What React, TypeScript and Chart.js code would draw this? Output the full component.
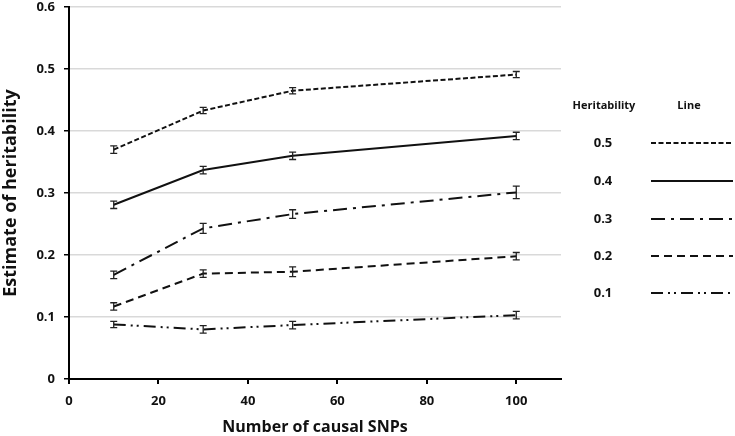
import React, { useEffect, useRef } from "react";
import { Chart, registerables } from "chart.js";

Chart.register(...registerables);

const xValues = [10, 30, 50, 100];
const heritabilityLabels = ["0.5", "0.4", "0.3", "0.2", "0.1"];
const h05 = [0.37, 0.433, 0.465, 0.491];
const h04 = [0.281, 0.337, 0.36, 0.392];
const h03 = [0.168, 0.243, 0.266, 0.301];
const h02 = [0.117, 0.17, 0.173, 0.198];
const h01 = [0.088, 0.08, 0.087, 0.103];
const e05 = [0.006, 0.005, 0.005, 0.005];
const e04 = [0.006, 0.006, 0.006, 0.006];
const e03 = [0.006, 0.008, 0.007, 0.01];
const e02 = [0.006, 0.006, 0.008, 0.006];
const e01 = [0.005, 0.006, 0.006, 0.006];
const yTicks = [0, 0.1, 0.2, 0.3, 0.4, 0.5, 0.6];
const xTicks = [0, 20, 40, 60, 80, 100];

const seriesValues = [h05, h04, h03, h02, h01];
const seriesErrors = [e05, e04, e03, e02, e01];
const dashes = [[5, 2.5], [], [14, 6, 3, 6], [8, 5], [12, 5, 2, 4, 2, 5]];

const FONT = "'Open Sans', 'Noto Sans', sans-serif";

const extrasPlugin = {
  id: "extras",
  afterDatasetsDraw(chart: any) {
    const { ctx, scales } = chart;
    const xs = scales.x;
    const ys = scales.y;
    ctx.save();
    ctx.strokeStyle = "#222";
    ctx.lineWidth = 1.3;
    ctx.setLineDash([]);
    chart.data.datasets.forEach((ds: any) => {
      const errs = ds.errors as number[];
      ds.data.forEach((p: any, i: number) => {
        const px = xs.getPixelForValue(p.x);
        const yt = ys.getPixelForValue(p.y + errs[i]);
        const yb = ys.getPixelForValue(p.y - errs[i]);
        ctx.beginPath();
        ctx.moveTo(px, yt);
        ctx.lineTo(px, yb);
        ctx.moveTo(px - 3.5, yt);
        ctx.lineTo(px + 3.5, yt);
        ctx.moveTo(px - 3.5, yb);
        ctx.lineTo(px + 3.5, yb);
        ctx.stroke();
      });
    });
    ctx.restore();
  },
  afterDraw(chart: any) {
    const { ctx } = chart;
    ctx.save();
    ctx.fillStyle = "#111";
    ctx.textAlign = "center";
    ctx.textBaseline = "middle";
    ctx.font = `bold 11px ${FONT}`;
    ctx.fillText("Heritability", 604, 106);
    ctx.fillText("Line", 689, 106);
    const rowY = [143, 181, 219, 256, 293];
    chart.data.datasets.forEach((ds: any, i: number) => {
      const y = rowY[i];
      ctx.fillStyle = "#111";
      ctx.font = `bold 13px ${FONT}`;
      ctx.fillText(ds.label, 603, y);
      ctx.strokeStyle = "#111";
      ctx.lineWidth = 2;
      ctx.setLineDash(ds.borderDash);
      ctx.beginPath();
      ctx.moveTo(651, y);
      ctx.lineTo(733, y);
      ctx.stroke();
    });
    ctx.restore();
  },
};

function ChartView() {
  const ref = useRef<HTMLCanvasElement>(null);
  useEffect(() => {
    if (!ref.current) return;
    const datasets = heritabilityLabels.map((lab, k) => ({
      label: lab,
      data: xValues.map((x, i) => ({ x, y: seriesValues[k][i] })),
      errors: seriesErrors[k],
      borderColor: "#111",
      backgroundColor: "#111",
      borderWidth: 2,
      borderDash: dashes[k],
      pointRadius: 0,
      tension: 0,
      fill: false,
    }));
    const chart = new Chart(ref.current, {
      type: "line",
      data: { datasets: datasets as any },
      plugins: [extrasPlugin as any],
      options: {
        responsive: false,
        animation: false,
        layout: { padding: { top: 7, right: 174, left: 0, bottom: 0 } },
        plugins: { legend: { display: false }, tooltip: { enabled: false } },
        scales: {
          x: {
            type: "linear",
            min: 0,
            max: 110,
            afterBuildTicks: (s: any) => {
              s.ticks = xTicks.map((v) => ({ value: v }));
            },
            afterFit: (s: any) => {
              s.height = 57;
              s.paddingLeft = 0;
              s.paddingRight = 0;
            },
            border: { display: true, color: "#000", width: 2 },
            grid: {
              drawOnChartArea: false,
              drawTicks: true,
              tickLength: 5,
              color: "#000",
              tickColor: "#000",
              lineWidth: 2,
            },
            ticks: {
              color: "#111",
              font: { family: FONT, size: 13, weight: "bold" },
              padding: 9,
              maxRotation: 0,
            },
            title: {
              display: true,
              text: "Number of causal SNPs",
              color: "#111",
              font: { family: FONT, size: 16, weight: "bold" },
              padding: { top: 4, bottom: -1 },
            },
          },
          y: {
            type: "linear",
            min: 0,
            max: 0.6,
            afterBuildTicks: (s: any) => {
              s.ticks = yTicks.map((v) => ({ value: v }));
            },
            afterFit: (s: any) => {
              s.width = 69;
              s.paddingTop = 0;
              s.paddingBottom = 0;
            },
            border: { display: true, color: "#000", width: 2 },
            grid: {
              drawTicks: true,
              tickLength: 5,
              color: (c: any) => (c.tick && c.tick.value === 0 ? "rgba(0,0,0,0)" : "#d9d9d9"),
              tickColor: "#000",
              lineWidth: 1.5,
            },
            ticks: {
              color: "#111",
              font: { family: FONT, size: 13, weight: "bold" },
              padding: 9,
              callback: (v: any) => String(Number(Number(v).toFixed(1))),
            },
            title: {
              display: true,
              text: "Estimate of heritability",
              color: "#111",
              font: { family: FONT, size: 18, weight: "bold" },
              padding: { top: 0, bottom: 0 },
            },
          },
        },
      },
    });
    return () => chart.destroy();
  }, []);
  return <canvas ref={ref} width={735} height={436} style={{ display: "block" }} />;
}

export default function App() {
  return (
    <div style={{ position: "fixed", left: 0, top: 0, width: 735, height: 436, background: "#fff" }}>
      <ChartView />
    </div>
  );
}
